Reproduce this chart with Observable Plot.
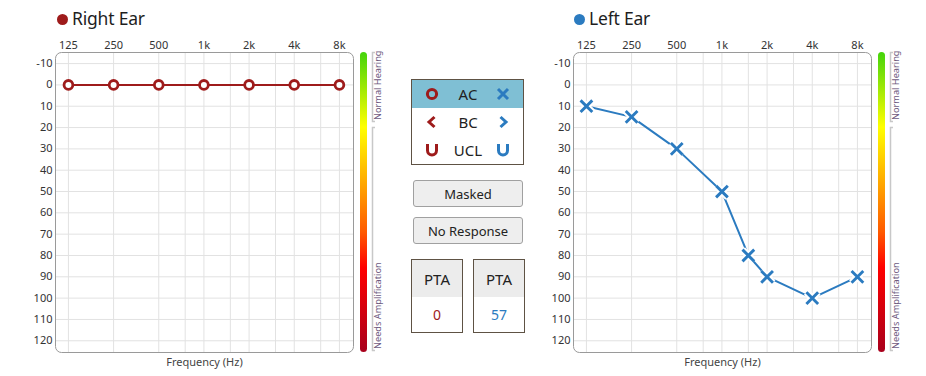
<!DOCTYPE html>
<html><head><meta charset="utf-8">
<script src="https://cdn.jsdelivr.net/npm/d3@7"></script>
<script src="https://cdn.jsdelivr.net/npm/@observablehq/plot@0.6"></script>
<style>
body{margin:0;background:#fff;font-family:"Noto Sans","Open Sans",sans-serif;color:#222;}
#root{position:relative;width:926px;height:376px;overflow:hidden;}
.abs{position:absolute;}
.title{font-size:17.5px;letter-spacing:-0.2px;line-height:1;white-space:nowrap;color:#1e1e1e;}
.dot{width:11px;height:11px;border-radius:50%;}
.box{border:1px solid #5e5244;box-sizing:border-box;background:#fff;}
.lbl{font-size:15px;line-height:1;transform:translate(-50%,-50%);white-space:nowrap;}
.btn{background:#eeeeee;border:1px solid #a0a0a0;border-radius:3px;box-sizing:border-box;font-size:13px;display:flex;align-items:center;justify-content:center;color:#222;}
.sym{transform:translate(-50%,-50%);}
</style></head><body><div id="root"></div>
<script>
const freqTicks = [125, 250, 500, 1000, 2000, 4000, 8000];
const freqTickLabels = ["125", "250", "500", "1k", "2k", "4k", "8k"];
const gridFreqs = [125, 250, 500, 750, 1000, 1500, 2000, 3000, 4000, 6000, 8000];
const dbTicks = [-10, 0, 10, 20, 30, 40, 50, 60, 70, 80, 90, 100, 110, 120];
const rightFreqs = [125, 250, 500, 1000, 2000, 4000, 8000];
const rightDb = [0, 0, 0, 0, 0, 0, 0];
const leftFreqs = [125, 250, 500, 1000, 1500, 2000, 4000, 8000];
const leftDb = [10, 15, 30, 50, 80, 90, 100, 90];
const legendRows = ["AC", "BC", "UCL"];
const buttons = ["Masked", "No Response"];
const ptaValues = [0, 57];

const RED = "#9e1b1b", BLUE = "#2b7bc0";
const root = document.getElementById("root");

function audiogram(freqs, dbs, color, kind) {
  const data = freqs.map((f, i) => ({f, db: dbs[i]}));
  const marks = [
    Plot.ruleX(gridFreqs, {stroke: "#e2e2e2"}),
    Plot.ruleY(dbTicks, {stroke: "#e2e2e2"}),
    Plot.frame({stroke: "#9a9a9a", rx: 6}),
    Plot.text(freqTicks, {x: d => d, text: (d, i) => freqTickLabels[i], frameAnchor: "top", lineAnchor: "middle", dy: -7, fontSize: 11, fill: "#333"}),
    Plot.axisY({ticks: dbTicks, tickSize: 0, tickPadding: 3, tickFormat: d => String(d), label: null}),
    Plot.text(["Frequency (Hz)"], {frameAnchor: "bottom", lineAnchor: "middle", dy: 10, fontSize: 11, fill: "#444"}),
    Plot.line(data, {x: "f", y: "db", stroke: color, strokeWidth: 2})
  ];
  if (kind === "circle") {
    marks.push(Plot.dot(data, {x: "f", y: "db", r: 4.4, fill: "white", stroke: color, strokeWidth: 2.8}));
  } else {
    marks.push(Plot.dot(data, {x: "f", y: "db", symbol: "times", r: 5.4, stroke: "white", strokeWidth: 7}));
    marks.push(Plot.dot(data, {x: "f", y: "db", symbol: "times", r: 5.4, stroke: color, strokeWidth: 2.9}));
  }
  return Plot.plot({
    width: 340, height: 376, marginLeft: 35, marginRight: 7, marginTop: 52, marginBottom: 24,
    x: {type: "log", domain: [102.5, 9930], axis: null},
    y: {domain: [125.5, -15.2]},
    style: {fontFamily: "'Noto Sans', sans-serif", fontSize: "11px", color: "#333", background: "transparent"},
    marks
  });
}

function place(el, left, top) {
  el.classList.add("abs");
  el.style.left = left + "px";
  el.style.top = top + "px";
  root.appendChild(el);
  return el;
}
function html(s) { const d = document.createElement("div"); d.innerHTML = s; return d.firstElementChild; }

// charts
place(audiogram(rightFreqs, rightDb, RED, "circle"), 20, 0);
place(audiogram(leftFreqs, leftDb, BLUE, "times"), 538, 0);

// titles
function title(x, text, color) {
  place(html(`<div class="dot" style="background:${color}"></div>`), x - 5.5, 13.5);
  place(html(`<div class="title">${text}</div>`), x + 10, 10);
}
title(62, "Right Ear", RED);
title(579, "Left Ear", BLUE);

// colour bars with brackets
function colorBar(x) {
  const s = `<svg width="40" height="320" style="overflow:visible">
    <defs><linearGradient id="g${x}" x1="0" y1="0" x2="0" y2="1">
      <stop offset="0" stop-color="#44d40c"/><stop offset="0.25" stop-color="#ffff00"/>
      <stop offset="0.42" stop-color="#ffb000"/><stop offset="0.6" stop-color="#ff5a00"/>
      <stop offset="0.72" stop-color="#ff0000"/><stop offset="1" stop-color="#a8001c"/></linearGradient></defs>
    <rect x="0" y="0" width="7" height="300" rx="3.5" fill="url(#g${x})"/>
    <path d="M15,0.5 H12.5 V69.5 H15 M15,75.5 H12.5 V298.5 H15" fill="none" stroke="#c8c8c8" stroke-width="1.5"/>
    <text transform="translate(18.5,68) rotate(-90)" font-size="9.2" fill="#6e5a7e" dominant-baseline="middle" font-family="'Noto Sans',sans-serif">Normal Hearing</text>
    <text transform="translate(18.5,297) rotate(-90)" font-size="9.2" fill="#6e5a7e" dominant-baseline="middle" font-family="'Noto Sans',sans-serif">Needs Amplification</text>
  </svg>`;
  place(html(s), x, 52);
}
colorBar(360);
colorBar(878);

// legend box
place(html(`<div class="box" style="width:113px;height:86px"><div style="background:#7fbfd4;height:28px"></div></div>`), 411, 79);
const rowsY = [94, 122, 150];
legendRows.forEach((t, i) => place(html(`<div class="lbl">${t}</div>`), 468, rowsY[i]));
function symSvg(kind, color) {
  let p = "";
  if (kind === "AC") p = color === RED ? `<circle cx="7" cy="7" r="4.6" fill="none" stroke="${color}" stroke-width="3"/>` : `<path d="M2,2 L12,12 M12,2 L2,12" stroke="${color}" stroke-width="3"/>`;
  if (kind === "BC") p = color === RED ? `<path d="M9.5,2 L4,7 L9.5,12" fill="none" stroke="${color}" stroke-width="3"/>` : `<path d="M4.5,2 L10,7 L4.5,12" fill="none" stroke="${color}" stroke-width="3"/>`;
  if (kind === "UCL") p = `<path d="M2.5,1 V7.5 A4.5,4.5 0 0 0 11.5,7.5 V1" fill="none" stroke="${color}" stroke-width="3"/>`;
  return `<svg class="sym" width="14" height="14">${p}</svg>`;
}
legendRows.forEach((t, i) => {
  place(html(symSvg(t, RED)), 432, rowsY[i]);
  place(html(symSvg(t, BLUE)), 503, rowsY[i]);
});

// buttons
buttons.forEach((b, i) => place(html(`<div class="btn" style="width:110px;height:27px">${b}</div>`), 413, 180 + i * 37));

// PTA boxes
ptaValues.forEach((v, i) => {
  const c = i === 0 ? RED : BLUE;
  place(html(`<div class="box" style="width:52px;height:74px">
    <div style="background:#ececec;height:37px;display:flex;align-items:center;justify-content:center;font-size:15px">PTA</div>
    <div style="height:35px;display:flex;align-items:center;justify-content:center;font-size:14px;color:${c}">${v}</div></div>`), 411 + i * 62, 259);
});
</script></body></html>
